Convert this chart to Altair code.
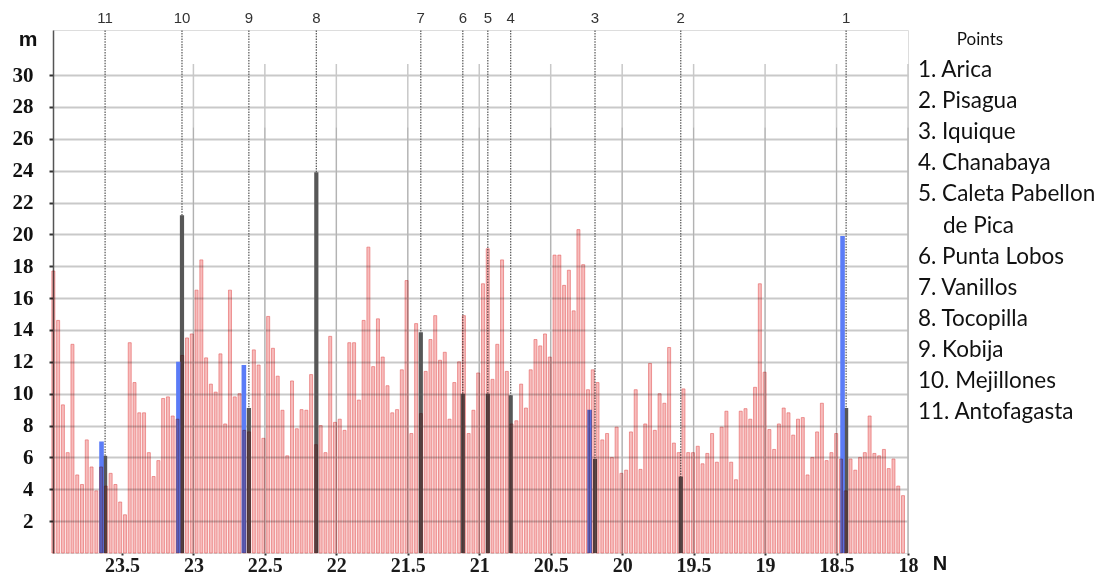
import altair as alt
import pandas as pd

# ---- data ----
red_heights = [
    17.7, 14.6, 9.3, 6.3, 13.1, 4.9, 4.3, 7.1, 5.4, 3.9,
    5.4, 4.2, 5.0, 4.3, 3.2, 2.4, 13.2, 10.7, 8.8, 8.8,
    6.3, 4.8, 5.8, 9.7, 9.8, 8.6, 8.4, 12.4, 13.5, 13.75,
    16.5, 18.4, 12.25, 10.6, 10.1, 12.5, 8.1, 16.5, 9.8, 10.0,
    7.7, 7.6, 12.75, 11.8, 7.2, 14.85, 12.85, 11.1, 8.96, 6.1,
    10.8, 7.8, 9.0, 8.96, 11.2, 6.8, 8.0, 6.3, 13.6, 8.2,
    8.4, 7.7, 13.2, 13.2, 9.6, 14.6, 19.2, 11.7, 14.7, 12.3,
    10.5, 8.8, 9.0, 11.5, 17.1, 7.5, 14.4, 8.75, 11.4, 13.4,
    14.9, 12.1, 12.6, 8.4, 10.7, 12.0, 14.9, 7.5, 8.96, 11.3,
    16.9, 19.1, 10.9, 13.1, 18.4, 11.4, 8.1, 8.3, 10.6, 9.1,
    11.5, 13.4, 13.0, 13.75, 12.3, 18.7, 18.7, 16.8, 17.75, 15.2,
    20.3, 18.1, 10.25, 11.5, 10.7, 7.1, 7.5, 6.0, 7.9, 5.0,
    5.2, 7.6, 10.25, 5.25, 8.1, 11.9, 7.7, 10.0, 9.4, 12.9,
    6.9, 6.3, 10.3, 6.3, 6.3, 6.7, 5.6, 6.25, 7.5, 5.7,
    7.9, 8.9, 5.7, 4.6, 8.9, 9.06, 8.4, 10.4, 16.9, 11.35,
    7.75, 6.5, 8.1, 9.1, 8.8, 7.4, 8.4, 8.5, 4.9, 6.0,
    7.6, 9.4, 5.8, 6.3, 7.5, 5.9, 3.9, 5.9, 5.2, 6.0,
    6.3, 8.6, 6.25, 6.1, 6.5, 5.3, 5.9, 4.2, 3.6,
]
lat_start = 23.98      # latitude of the first (northern-most plotted) red bar
lat_step = 0.0334      # spacing between consecutive red bars (degrees)

point_nums = ["1", "2", "3", "4", "5", "6", "7", "8", "9", "10", "11"]
point_names = ["Arica", "Pisagua", "Iquique", "Chanabaya", "Caleta Pabellon de Pica",
               "Punta Lobos", "Vanillos", "Tocopilla", "Kobija", "Mejillones", "Antofagasta"]
point_lats = [18.433, 19.59, 20.19, 20.78, 20.94, 21.115, 21.409, 22.14, 22.612, 23.08, 23.618]
gray_heights = [9.1, 4.8, 5.9, 9.9, 10.0, 10.0, 13.85, 23.9, 9.1, 21.2, 6.1]

blue_lats = [18.458, 20.228, 22.647, 23.105, 23.643]
blue_heights = [19.9, 9.0, 11.8, 12.0, 7.0]

x_ticks = [23.5, 23, 22.5, 22, 21.5, 21, 20.5, 20, 19.5, 19, 18.5, 18]
vgrid_lats = [23, 22.5, 22, 21.5, 21, 20.5, 20, 19.5, 19, 18.5, 18]
y_ticks = [2, 4, 6, 8, 10, 12, 14, 16, 18, 20, 22, 24, 26, 28, 30]

legend_block1 = ["1. Arica", "2. Pisagua", "3. Iquique", "4. Chanabaya", "5. Caleta Pabellon"]
legend_cont = "de Pica"
legend_block2 = ["6. Punta Lobos", "7. Vanillos", "8. Tocopilla", "9. Kobija",
                 "10. Mejillones", "11. Antofagasta"]

# ---- tables ----
red_df = pd.DataFrame({"lat": [lat_start - i * lat_step for i in range(len(red_heights))],
                       "h": red_heights})
pts_df = pd.DataFrame({"num": point_nums, "name": point_names, "lat": point_lats, "h": gray_heights})
blue_df = pd.DataFrame({"lat": blue_lats, "h": blue_heights})
vgrid_df = pd.DataFrame({"lat": vgrid_lats})

W, H = 855, 523
Y_TOP = 32.83
LH = 31.1  # legend line spacing

xscale = alt.Scale(domain=[18.0, 23.9825], reverse=True, nice=False, zero=False, padding=0)
yscale = alt.Scale(domain=[0, Y_TOP], nice=False, zero=True, padding=0)

x_axis = alt.Axis(values=x_ticks, format="~g", grid=False, domain=False, ticks=True,
                  tickSize=2, tickWidth=2, tickColor="#333", labelFont="Liberation Serif",
                  labelFontSize=20, labelFontWeight="bold", labelColor="#1a1a1a",
                  labelPadding=0, labelFlush=False, labelOverlap=False, title=None)
y_axis = alt.Axis(values=y_ticks, grid=True, gridColor="#c9c9c9", gridWidth=2,
                  domain=True, domainColor="#555", domainWidth=1.5,
                  ticks=True, tickSize=4, tickWidth=2, tickColor="#333",
                  labelFont="Liberation Serif", labelFontSize=21, labelFontWeight="bold",
                  labelColor="#111", labelPadding=16, title=None)

X = lambda: alt.X("lat:Q", scale=xscale, axis=x_axis)
Y = lambda: alt.Y("h:Q", scale=yscale, axis=y_axis, stack=None)
Y0 = lambda: alt.Y(datum=0, scale=yscale, axis=y_axis)

vgrid = alt.Chart(vgrid_df).mark_rule(color="#c8c8c8", strokeWidth=1.5).encode(
    x=X(), y=Y0(), y2=alt.datum(30.7)
)
vgrid_dark = alt.Chart(vgrid_df).mark_rule(color="#9a9a9a", strokeWidth=1, opacity=0.55).encode(
    x=X(), y=Y0(), y2=alt.datum(26.7)
)
dotted = alt.Chart(pts_df).mark_rule(color="#555", strokeWidth=1.2, strokeDash=[1.5, 1.2]).encode(
    x=X(), y=Y0(), y2=alt.datum(Y_TOP)
)
gray = alt.Chart(pts_df).mark_bar(width=4.2, color="#575757", orient="vertical").encode(x=X(), y=Y())
blue = alt.Chart(blue_df).mark_bar(width=4.6, color="#5b7cf7", orient="vertical").encode(x=X(), y=Y())
red = alt.Chart(red_df).mark_bar(width=3.0, fill="#f7bcbc", stroke="#e45e5e", strokeWidth=0.6,
                                 blend="multiply", orient="vertical").encode(x=X(), y=Y())

nums = alt.Chart(pts_df).mark_text(font="Liberation Sans", fontSize=15, color="#333",
                                   baseline="middle").encode(x=X(), y=alt.value(-12), text="num:N")

def label(text, x, y, **kw):
    return alt.Chart(pd.DataFrame({"t": [text]})).mark_text(**kw).encode(
        x=alt.value(x), y=alt.value(y), text="t:N")

leg_kw = dict(font="Lato", fontSize=22.5, color="#111", align="left", baseline="middle",
              lineBreak="\n", lineHeight=LH)
pts_title = label("Points", 927, 10, font="Lato", fontSize=17, color="#111",
                  align="center", baseline="middle")
leg1 = label("\n".join(legend_block1), 865, 40, **leg_kw)
leg1b = label(legend_cont, 890, 40 + 5 * LH, **leg_kw)
leg2 = label("\n".join(legend_block2), 865, 40 + 6 * LH, **leg_kw)

m_lab = label("m", -25, 10, font="Liberation Sans", fontSize=21, fontWeight="bold",
              color="#111", baseline="middle")
n_lab = label("N", 887, 534, font="Liberation Sans", fontSize=20, fontWeight="bold",
              color="#111", baseline="middle")

chart = alt.layer(vgrid, vgrid_dark, dotted, gray, blue, red, nums, pts_title,
                  leg1, leg1b, leg2, m_lab, n_lab).properties(
    width=W, height=H,
    autosize=alt.AutoSizeParams(type="none"),
    padding={"left": 45, "top": 22, "right": 193, "bottom": 21},
).configure_view(stroke=None).configure(background="white")

chart.save("out.html", embed_options={"renderer": "svg", "actions": False})
